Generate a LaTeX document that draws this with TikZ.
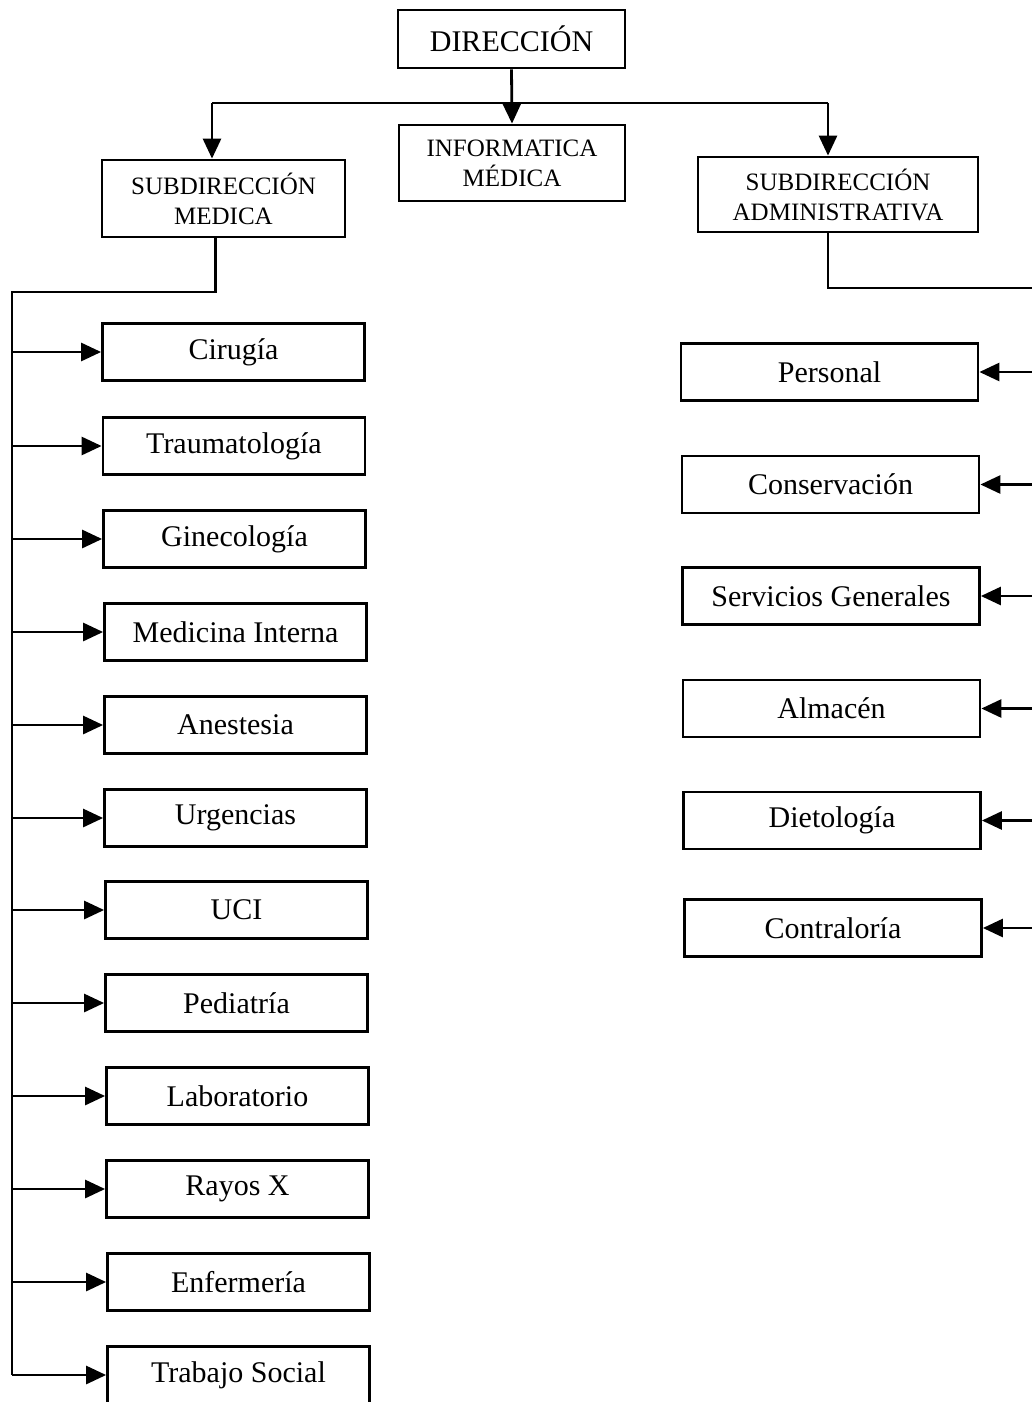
\documentclass[tikz,border=0pt]{standalone}
\usepackage{fontspec}
\setmainfont{Liberation Serif}
\usetikzlibrary{arrows.meta}

\begin{document}
\begin{tikzpicture}[x=0.5pt,y=-0.5pt,
  line width=1.4pt,
  box/.style={draw,inner sep=0pt,minimum width=131pt,minimum height=28.5pt,font=\fontsize{15}{17}\selectfont},
  rbox/.style={box,minimum width=148.5pt},
  topbox/.style={draw,inner sep=0pt,align=center,font=\fontsize{12.5}{15}\selectfont},
  arr/.style={-{Triangle[length=10pt,width=9pt]}}]
\clip (0,0) rectangle (1032,1402);
% top level
\node[box,minimum width=113.5pt,minimum height=29pt] (dir) at (511.5,39) {DIRECCIÓN};
\node[topbox,minimum width=113pt,minimum height=38pt] (info) at (512,163) {INFORMATICA\\MÉDICA};
\node[topbox,minimum width=121.5pt,minimum height=38.5pt] (submed) at (223.5,198.5) {SUBDIRECCIÓN\\MEDICA};
\node[topbox,minimum width=140pt,minimum height=37.5pt] (subadm) at (838,194.5) {SUBDIRECCIÓN\\ADMINISTRATIVA};
\coordinate (busL) at (212,103);
\coordinate (busR) at (828,103);
\draw[arr] (dir.south) -- (info.north);
\draw (busL) -- (busR);
\draw[arr] (busL) -- (busL |- submed.north);
\draw[arr] (busR) -- (busR |- subadm.north);
% medical departments
\node[box] (cir) at (233.5,352) {Cirugía};
\node[box] (tra) at (234,446) {Traumatología};
\node[box] (gin) at (234.5,539) {Ginecología};
\node[box] (med) at (235.5,632) {Medicina Interna};
\node[box] (ane) at (235.5,725) {Anestesia};
\node[box] (urg) at (235.5,818) {Urgencias};
\node[box] (uci) at (236.5,910) {UCI};
\node[box] (ped) at (236.5,1003) {Pediatría};
\node[box] (lab) at (237.5,1096) {Laboratorio};
\node[box] (ray) at (237.5,1189) {Rayos X};
\node[box] (enf) at (238.5,1282) {Enfermería};
\node[box] (tso) at (238.5,1375) {Trabajo Social};
\coordinate (medbus) at (12,292);
\draw ([xshift=-4pt]submed.south) |- (medbus) -- (medbus |- tso.west);
\draw[arr] (medbus |- cir.west) -- (cir.west);
\draw[arr] (medbus |- tra.west) -- (tra.west);
\draw[arr] (medbus |- gin.west) -- (gin.west);
\draw[arr] (medbus |- med.west) -- (med.west);
\draw[arr] (medbus |- ane.west) -- (ane.west);
\draw[arr] (medbus |- urg.west) -- (urg.west);
\draw[arr] (medbus |- uci.west) -- (uci.west);
\draw[arr] (medbus |- ped.west) -- (ped.west);
\draw[arr] (medbus |- lab.west) -- (lab.west);
\draw[arr] (medbus |- ray.west) -- (ray.west);
\draw[arr] (medbus |- enf.west) -- (enf.west);
\draw[arr] (medbus |- tso.west) -- (tso.west);
% administrative departments
\node[rbox] (per) at (829.5,372) {Personal};
\node[rbox] (con) at (830.5,484.5) {Conservación};
\node[rbox] (ser) at (831,596) {Servicios Generales};
\node[rbox] (alm) at (831.5,708.5) {Almacén};
\node[rbox] (die) at (832,820.5) {Dietología};
\node[rbox] (cot) at (833,928) {Contraloría};
\coordinate (admbus) at (1045,288);
\draw ([xshift=-5pt]subadm.south) |- (admbus) -- (admbus |- cot.east);
\draw[arr] (admbus |- per.east) -- (per.east);
\draw[arr] (admbus |- con.east) -- (con.east);
\draw[arr] (admbus |- ser.east) -- (ser.east);
\draw[arr] (admbus |- alm.east) -- (alm.east);
\draw[arr] (admbus |- die.east) -- (die.east);
\draw[arr] (admbus |- cot.east) -- (cot.east);
\end{tikzpicture}
\end{document}
